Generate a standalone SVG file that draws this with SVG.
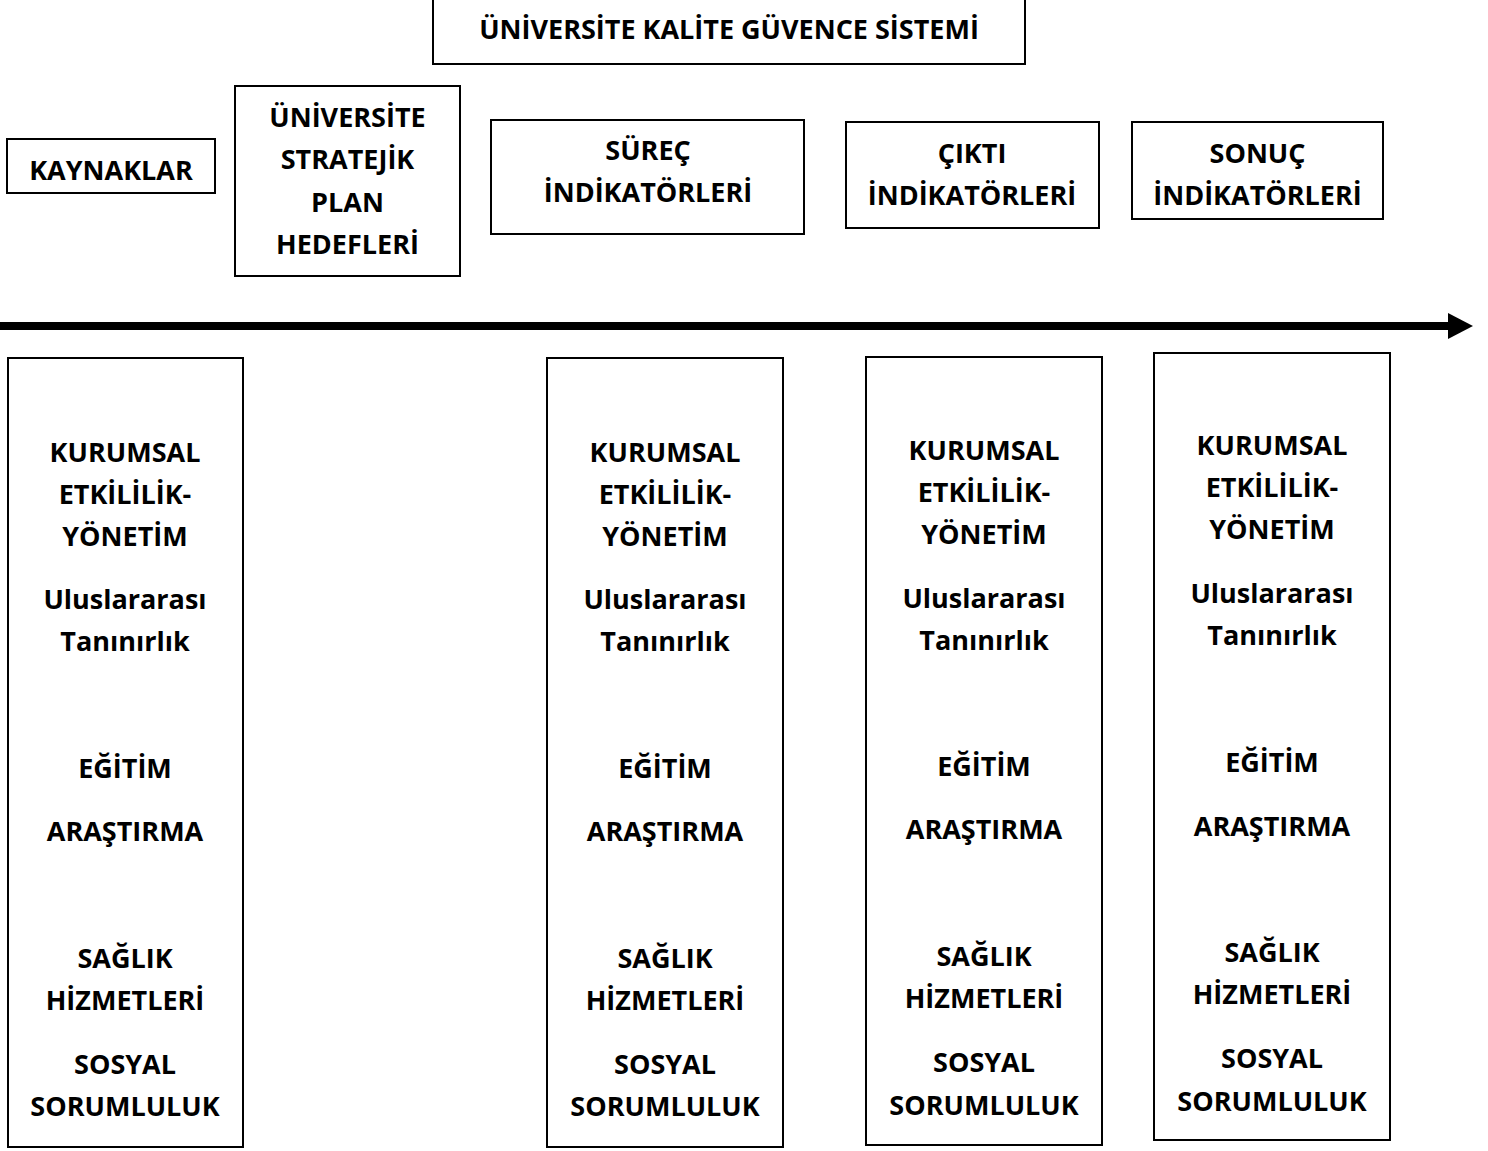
<svg xmlns="http://www.w3.org/2000/svg" width="1488" height="1151" viewBox="0 0 1488 1151">
<style>
.box{fill:#fff;stroke:#000;stroke-width:2}
.t{font-family:"Open Sans","Liberation Sans",sans-serif;font-weight:700;font-size:27px;fill:#000;text-anchor:middle}
</style>
<rect width="1488" height="1151" fill="#fff"/>
<g id="connectors">
<line x1="0" y1="326" x2="1450" y2="326" stroke="#000" stroke-width="8"/>
<polygon points="1448,313 1473,326 1448,339" fill="#000"/>
</g>
<g id="title">
<rect class="box" x="433" y="-1" width="592" height="65"/>
<text class="t" x="729" y="39">ÜNİVERSİTE KALİTE GÜVENCE SİSTEMİ</text>
</g>
<g id="kaynaklar">
<rect class="box" x="7" y="139" width="208" height="54"/>
<text class="t" x="111" y="180">KAYNAKLAR</text>
</g>
<g id="stratejik">
<rect class="box" x="235" y="86" width="225" height="190"/>
<text class="t" x="347.5" y="127">ÜNİVERSİTE</text>
<text class="t" x="347.5" y="169">STRATEJİK</text>
<text class="t" x="347.5" y="212">PLAN</text>
<text class="t" x="347.5" y="254">HEDEFLERİ</text>
</g>
<g id="surec">
<rect class="box" x="491" y="120" width="313" height="114"/>
<text class="t" x="648" y="160">SÜREÇ</text>
<text class="t" x="648" y="202">İNDİKATÖRLERİ</text>
</g>
<g id="cikti">
<rect class="box" x="846" y="122" width="253" height="106"/>
<text class="t" x="972" y="163">ÇIKTI</text>
<text class="t" x="972" y="205">İNDİKATÖRLERİ</text>
</g>
<g id="sonuc">
<rect class="box" x="1132" y="122" width="251" height="97"/>
<text class="t" x="1257.5" y="163">SONUÇ</text>
<text class="t" x="1257.5" y="205">İNDİKATÖRLERİ</text>
</g>
<g id="col-kaynaklar">
<rect class="box" x="8" y="358" width="235" height="789"/>
<text class="t" x="125" y="462">KURUMSAL</text>
<text class="t" x="125" y="504">ETKİLİLİK-</text>
<text class="t" x="125" y="546">YÖNETİM</text>
<text class="t" x="125" y="609">Uluslararası</text>
<text class="t" x="125" y="651">Tanınırlık</text>
<text class="t" x="125" y="778">EĞİTİM</text>
<text class="t" x="125" y="841">ARAŞTIRMA</text>
<text class="t" x="125" y="968">SAĞLIK</text>
<text class="t" x="125" y="1010">HİZMETLERİ</text>
<text class="t" x="125" y="1074">SOSYAL</text>
<text class="t" x="125" y="1116">SORUMLULUK</text>
</g>
<g id="col-surec">
<rect class="box" x="547" y="358" width="236" height="789"/>
<text class="t" x="665" y="462">KURUMSAL</text>
<text class="t" x="665" y="504">ETKİLİLİK-</text>
<text class="t" x="665" y="546">YÖNETİM</text>
<text class="t" x="665" y="609">Uluslararası</text>
<text class="t" x="665" y="651">Tanınırlık</text>
<text class="t" x="665" y="778">EĞİTİM</text>
<text class="t" x="665" y="841">ARAŞTIRMA</text>
<text class="t" x="665" y="968">SAĞLIK</text>
<text class="t" x="665" y="1010">HİZMETLERİ</text>
<text class="t" x="665" y="1074">SOSYAL</text>
<text class="t" x="665" y="1116">SORUMLULUK</text>
</g>
<g id="col-cikti">
<rect class="box" x="866" y="357" width="236" height="788"/>
<text class="t" x="984" y="460">KURUMSAL</text>
<text class="t" x="984" y="502">ETKİLİLİK-</text>
<text class="t" x="984" y="544">YÖNETİM</text>
<text class="t" x="984" y="608">Uluslararası</text>
<text class="t" x="984" y="650">Tanınırlık</text>
<text class="t" x="984" y="776">EĞİTİM</text>
<text class="t" x="984" y="839">ARAŞTIRMA</text>
<text class="t" x="984" y="966">SAĞLIK</text>
<text class="t" x="984" y="1008">HİZMETLERİ</text>
<text class="t" x="984" y="1072">SOSYAL</text>
<text class="t" x="984" y="1115">SORUMLULUK</text>
</g>
<g id="col-sonuc">
<rect class="box" x="1154" y="353" width="236" height="787"/>
<text class="t" x="1272" y="455">KURUMSAL</text>
<text class="t" x="1272" y="497">ETKİLİLİK-</text>
<text class="t" x="1272" y="539">YÖNETİM</text>
<text class="t" x="1272" y="603">Uluslararası</text>
<text class="t" x="1272" y="645">Tanınırlık</text>
<text class="t" x="1272" y="772">EĞİTİM</text>
<text class="t" x="1272" y="836">ARAŞTIRMA</text>
<text class="t" x="1272" y="962">SAĞLIK</text>
<text class="t" x="1272" y="1004">HİZMETLERİ</text>
<text class="t" x="1272" y="1068">SOSYAL</text>
<text class="t" x="1272" y="1111">SORUMLULUK</text>
</g>
</svg>
